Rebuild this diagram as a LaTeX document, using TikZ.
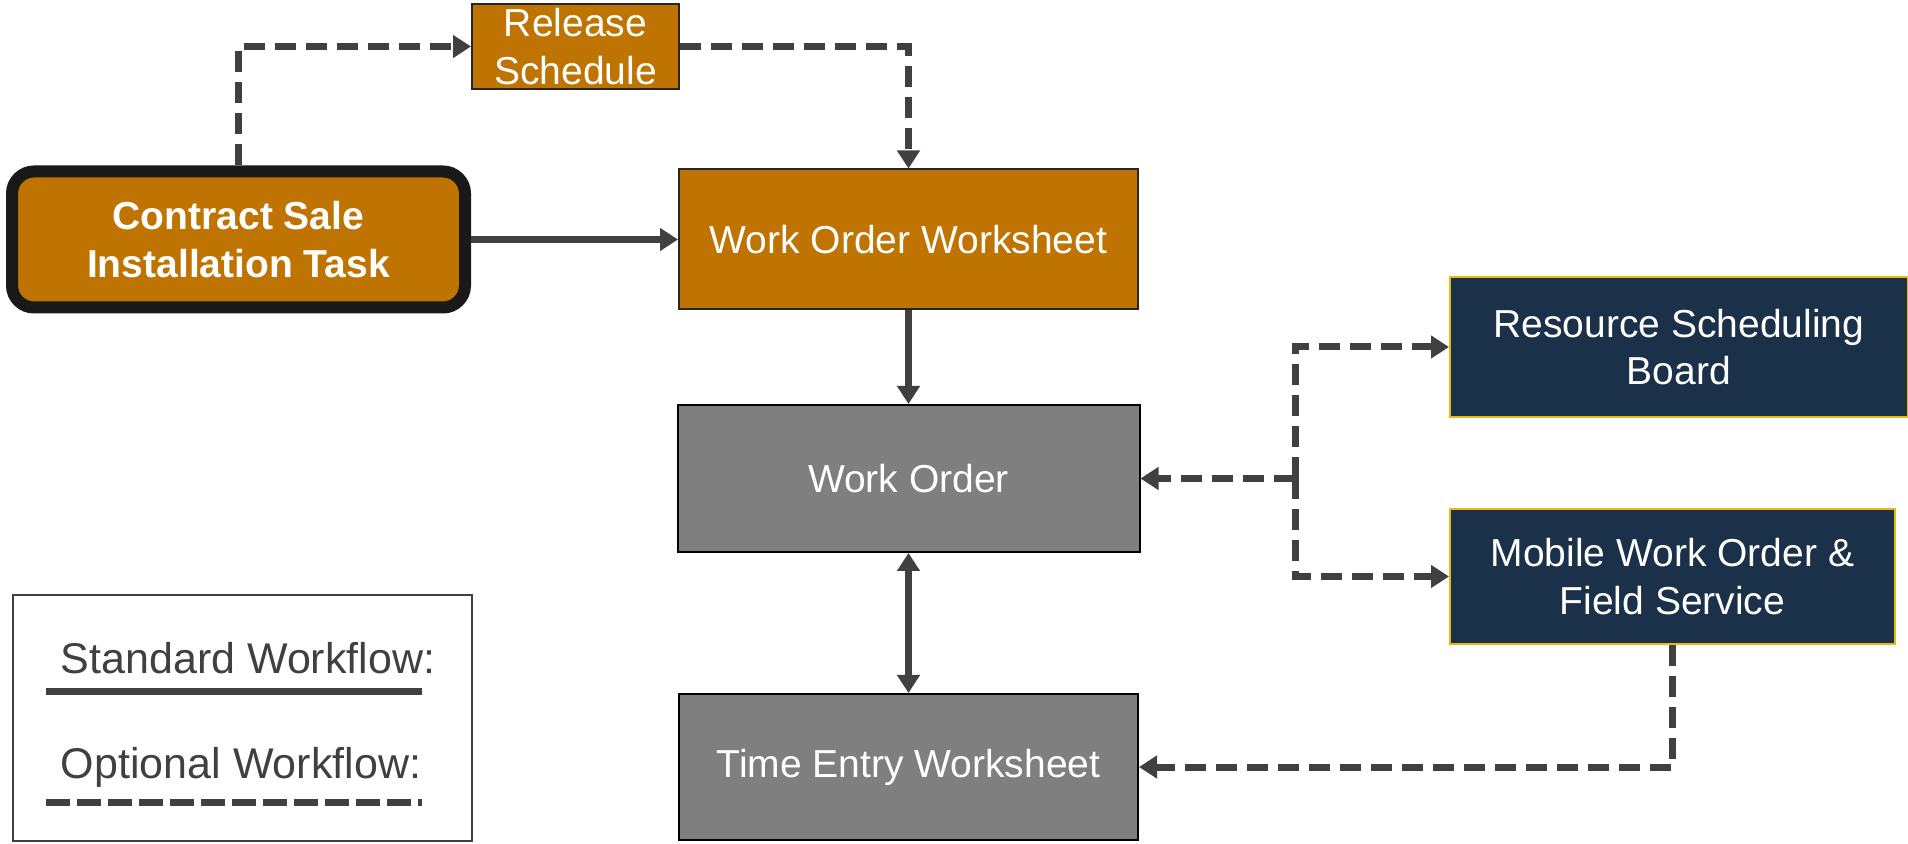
\documentclass[tikz,border=0pt]{standalone}
\usepackage{fontspec}
\setmainfont{Liberation Sans}
\usetikzlibrary{arrows.meta}

\definecolor{boxorange}{RGB}{191,115,0}
\definecolor{boxnavy}{RGB}{27,49,73}
\definecolor{boxgray}{RGB}{127,127,127}
\definecolor{flowgray}{RGB}{64,64,64}
\definecolor{edgegold}{RGB}{232,184,20}

\begin{document}
\begin{tikzpicture}[x = 0.5pt, y = -0.5pt,
		stage/.style = {draw = black!85, line width = 1pt, align = center, inner sep = 0pt, text = white, font = \fontsize{19.5}{23.7}\selectfont},
		stdflow/.style = {draw = flowgray, line width = 3.5pt, -{Triangle[length = 9pt, width = 11pt]}},
		optflow/.style = {stdflow, dash pattern = on 10.5pt off 5pt}]
	\useasboundingbox (0, 0) rectangle (1908, 844);
				\node (rel) at (575.5, 46.5) [stage, fill = boxorange, minimum width = 103.5pt, minimum height = 42.5pt] {Release\\Schedule};
				\node (cst) at (238.5, 239.5) [stage, fill = boxorange, draw = black!90, line width = 6pt, rounded corners = 11pt, minimum width = 226.5pt, minimum height = 68pt, font = \fontsize{19.5}{23.7}\selectfont\bfseries] {Contract Sale\\Installation Task};
					\draw[optflow] (cst.north) |- (rel.west);
				\node (wow) at (908.5, 239.5) [stage, fill = boxorange, minimum width = 229.5pt, minimum height = 70pt] {Work Order Worksheet};
					\draw[optflow] (rel.east) -| (wow.north);
					\draw[stdflow] (cst.east) -- (wow.west);
				\node (wo) at (908.5, 478.5) [stage, fill = boxgray, draw = black, minimum width = 231pt, minimum height = 73.5pt] {Work Order};
					\draw[stdflow] (wow.south) -- (wo.north);
				\node (tew) at (908.5, 767) [stage, fill = boxgray, draw = black, minimum width = 229.5pt, minimum height = 73pt] {Time Entry Worksheet};
					\draw[stdflow, {Triangle[length = 9pt, width = 11pt]}-{Triangle[length = 9pt, width = 11pt]}] (wo.south) -- (tew.north);
				\node (rsb) at (1679, 347) [stage, fill = boxnavy, draw = edgegold, minimum width = 229pt, minimum height = 70pt] {Resource Scheduling\\Board};
				\node (mob) at (1672.5, 576.5) [stage, fill = boxnavy, draw = edgegold, minimum width = 222.5pt, minimum height = 67.5pt] {Mobile Work Order \&\\Field Service};
				% branch point between the two scheduling boxes
				\coordinate (br) at (1295, 478.5);
					\draw[optflow] (br) -- (wo.east);
					\draw[optflow] (br) |- (rsb.west);
					\draw[optflow] (br) |- (mob.west);
					\draw[optflow] (mob.south) |- (tew.east);
				% legend
				\node (key) at (242.5, 718) [draw = flowgray, line width = 1pt, minimum width = 229.5pt, minimum height = 123pt] {};
				\node (keystd) at (248, 658) [text = flowgray, font = \fontsize{21.5}{25}\selectfont] {Standard Workflow:};
				\node (keyopt) at (241, 767) [text = flowgray, font = \fontsize{21.5}{25}\selectfont] {Optional Workflow:};
				\coordinate (stdA) at (46, 692);
				\coordinate (stdB) at (422, 692);
				\coordinate (optA) at (46, 802);
				\coordinate (optB) at (422, 802);
					\draw[flowgray, line width = 3.5pt] (stdA) -- (stdB);
					\draw[flowgray, line width = 3.5pt, dash pattern = on 12pt off 3.5pt] (optA) -- (optB);
\end{tikzpicture}
\end{document}
